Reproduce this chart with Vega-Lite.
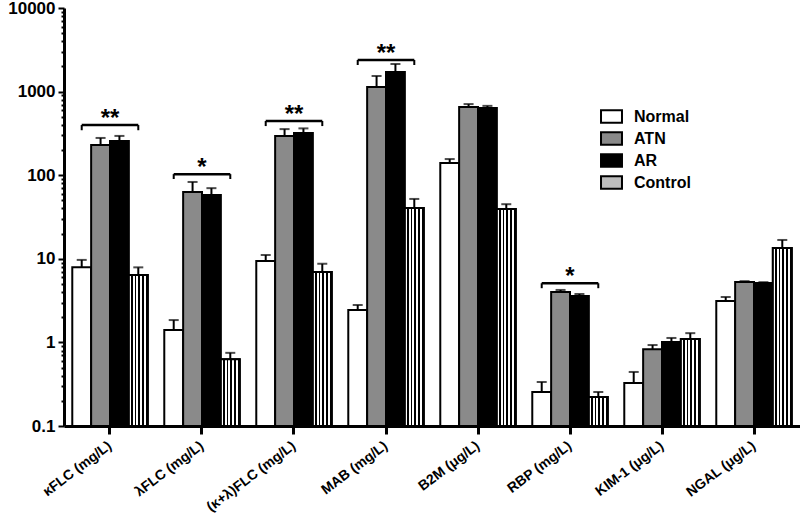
{
  "$schema": "https://vega.github.io/schema/vega-lite/v6.json",
  "width": 736,
  "height": 418,
  "autosize": {"type": "none"},
  "padding": {"left": 64, "top": 8, "right": 0, "bottom": 89},
  "background": "white",
  "config": {
    "font": "Liberation Sans",
    "view": {"stroke": null},
    "axis": {"domainColor": "black", "tickColor": "black", "labelColor": "black", "grid": false, "title": null, "labelFontWeight": "bold"},
    "legend": {"labelFontWeight": "bold", "labelColor": "black"}
  },
  "datasets": {
    "bars": [
      {"cat": "κFLC (mg/L)", "group": "Normal", "value": 7.9, "upper": 9.7},
      {"cat": "κFLC (mg/L)", "group": "ATN", "value": 230, "upper": 279},
      {"cat": "κFLC (mg/L)", "group": "AR", "value": 257, "upper": 295},
      {"cat": "κFLC (mg/L)", "group": "Control", "value": 6.4, "upper": 7.9},
      {"cat": "λFLC (mg/L)", "group": "Normal", "value": 1.41, "upper": 1.85},
      {"cat": "λFLC (mg/L)", "group": "ATN", "value": 63, "upper": 83},
      {"cat": "λFLC (mg/L)", "group": "AR", "value": 58, "upper": 70},
      {"cat": "λFLC (mg/L)", "group": "Control", "value": 0.63, "upper": 0.75},
      {"cat": "(κ+λ)FLC (mg/L)", "group": "Normal", "value": 9.4, "upper": 11.1},
      {"cat": "(κ+λ)FLC (mg/L)", "group": "ATN", "value": 294, "upper": 356},
      {"cat": "(κ+λ)FLC (mg/L)", "group": "AR", "value": 320, "upper": 363},
      {"cat": "(κ+λ)FLC (mg/L)", "group": "Control", "value": 6.95, "upper": 8.7},
      {"cat": "MAB (mg/L)", "group": "Normal", "value": 2.44, "upper": 2.8},
      {"cat": "MAB (mg/L)", "group": "ATN", "value": 1135, "upper": 1537},
      {"cat": "MAB (mg/L)", "group": "AR", "value": 1714, "upper": 2138},
      {"cat": "MAB (mg/L)", "group": "Control", "value": 40.5, "upper": 52},
      {"cat": "B2M (μg/L)", "group": "Normal", "value": 140, "upper": 156},
      {"cat": "B2M (μg/L)", "group": "ATN", "value": 655, "upper": 709},
      {"cat": "B2M (μg/L)", "group": "AR", "value": 637, "upper": 675},
      {"cat": "B2M (μg/L)", "group": "Control", "value": 39.4, "upper": 45},
      {"cat": "RBP (mg/L)", "group": "Normal", "value": 0.255, "upper": 0.336},
      {"cat": "RBP (mg/L)", "group": "ATN", "value": 4.0, "upper": 4.24},
      {"cat": "RBP (mg/L)", "group": "AR", "value": 3.59, "upper": 3.79},
      {"cat": "RBP (mg/L)", "group": "Control", "value": 0.222, "upper": 0.255},
      {"cat": "KIM-1 (μg/L)", "group": "Normal", "value": 0.327, "upper": 0.443},
      {"cat": "KIM-1 (μg/L)", "group": "ATN", "value": 0.83, "upper": 0.93},
      {"cat": "KIM-1 (μg/L)", "group": "AR", "value": 1.01, "upper": 1.13},
      {"cat": "KIM-1 (μg/L)", "group": "Control", "value": 1.1, "upper": 1.29},
      {"cat": "NGAL (μg/L)", "group": "Normal", "value": 3.13, "upper": 3.49},
      {"cat": "NGAL (μg/L)", "group": "ATN", "value": 5.28, "upper": 5.4},
      {"cat": "NGAL (μg/L)", "group": "AR", "value": 5.13, "upper": 5.25},
      {"cat": "NGAL (μg/L)", "group": "Control", "value": 13.5, "upper": 16.8}
    ],
    "brackets": [
      {"cat": "κFLC (mg/L)", "group": "Normal", "yb": 398, "ylow": 345},
      {"cat": "κFLC (mg/L)", "group": "Control", "yb": 398, "ylow": 345},
      {"cat": "λFLC (mg/L)", "group": "Normal", "yb": 103, "ylow": 90},
      {"cat": "λFLC (mg/L)", "group": "Control", "yb": 103, "ylow": 90},
      {"cat": "(κ+λ)FLC (mg/L)", "group": "Normal", "yb": 445, "ylow": 387},
      {"cat": "(κ+λ)FLC (mg/L)", "group": "Control", "yb": 445, "ylow": 387},
      {"cat": "MAB (mg/L)", "group": "Normal", "yb": 2390, "ylow": 2080},
      {"cat": "MAB (mg/L)", "group": "Control", "yb": 2390, "ylow": 2080},
      {"cat": "RBP (mg/L)", "group": "Normal", "yb": 5.1, "ylow": 4.45},
      {"cat": "RBP (mg/L)", "group": "Control", "yb": 5.1, "ylow": 4.45}
    ],
    "stars": [
      {"cat": "κFLC (mg/L)", "yb": 398, "label": "**"},
      {"cat": "λFLC (mg/L)", "yb": 103, "label": "*"},
      {"cat": "(κ+λ)FLC (mg/L)", "yb": 445, "label": "**"},
      {"cat": "MAB (mg/L)", "yb": 2390, "label": "**"},
      {"cat": "RBP (mg/L)", "yb": 5.1, "label": "*"}
    ]
  },
  "encoding": {
    "x": {
      "field": "cat", "type": "nominal",
      "sort": ["κFLC (mg/L)", "λFLC (mg/L)", "(κ+λ)FLC (mg/L)", "MAB (mg/L)", "B2M (μg/L)", "RBP (mg/L)", "KIM-1 (μg/L)", "NGAL (μg/L)"],
      "scale": {"paddingInner": 0.18, "paddingOuter": 0.09},
      "axis": {"title": null, "domainWidth": 3, "tickWidth": 3, "tickSize": 8, "bandPosition": 0.5, "labelAngle": -37, "labelAlign": "right", "labelBaseline": "middle", "labelFontSize": 14, "labelPadding": 10}
    }
  },
  "layer": [
    {
      "data": {"name": "bars"},
      "mark": {"type": "bar", "stroke": "black", "strokeWidth": 2},
      "encoding": {
        "xOffset": {"field": "group", "type": "nominal", "sort": ["Normal", "ATN", "AR", "Control"], "scale": {"domain": ["Normal", "ATN", "AR", "Control"], "paddingInner": 0, "paddingOuter": 0}},
        "y": {
          "field": "value", "type": "quantitative", "stack": null,
          "scale": {"type": "log", "domain": [0.1, 10000], "nice": false},
          "axis": {
            "title": null, "domainWidth": 3, "tickWidth": 2,
            "tickSize": {"condition": {"test": "abs(log(datum.value)/LN10 - round(log(datum.value)/LN10)) < 0.001", "value": 6}, "value": 3},
            "values": [0.1,0.2,0.3,0.4,0.5,0.6,0.7,0.8,0.9,1,2,3,4,5,6,7,8,9,10,20,30,40,50,60,70,80,90,100,200,300,400,500,600,700,800,900,1000,2000,3000,4000,5000,6000,7000,8000,9000,10000],
            "format": "~g",
            "labelExpr": "abs(log(datum.value)/LN10 - round(log(datum.value)/LN10)) < 0.001 ? datum.label : ''",
            "labelFontSize": 17, "labelPadding": 3, "labelFlush": false, "labelOverlap": false
          }
        },
        "y2": {"datum": 0.1},
        "fill": {
          "field": "group", "type": "nominal",
          "scale": {"domain": ["Normal", "ATN", "AR", "Control"], "range": ["white", "#8a8a8a", "black", "#bdbdbd"]},
          "legend": {
            "title": null, "orient": "none", "legendX": 536, "legendY": 97,
            "symbolType": "M-1,-0.6H1V0.6H-1Z", "symbolSize": 440, "symbolStrokeColor": "black", "symbolStrokeWidth": 2,
            "labelFontSize": 16, "labelOffset": 11, "rowPadding": 0, "padding": 0
          }
        }
      }
    },
    {
      "data": {"name": "bars"},
      "transform": [{"filter": "datum.group === 'Control'"}],
      "mark": {
        "type": "bar", "stroke": "black", "strokeWidth": 2,
        "fill": {"gradient": "linear", "x1": 0, "y1": 0, "x2": 1, "y2": 0, "stops": [
          {"offset": 0, "color": "white"}, {"offset": 0.11, "color": "white"}, {"offset": 0.11, "color": "black"}, {"offset": 0.2, "color": "black"},
          {"offset": 0.2, "color": "white"}, {"offset": 0.31, "color": "white"}, {"offset": 0.31, "color": "black"}, {"offset": 0.4, "color": "black"},
          {"offset": 0.4, "color": "white"}, {"offset": 0.51, "color": "white"}, {"offset": 0.51, "color": "black"}, {"offset": 0.6, "color": "black"},
          {"offset": 0.6, "color": "white"}, {"offset": 0.71, "color": "white"}, {"offset": 0.71, "color": "black"}, {"offset": 0.8, "color": "black"},
          {"offset": 0.8, "color": "white"}, {"offset": 0.91, "color": "white"}, {"offset": 0.91, "color": "black"}, {"offset": 1, "color": "black"}
        ]}
      },
      "encoding": {
        "xOffset": {"field": "group", "type": "nominal", "scale": {"domain": ["Normal", "ATN", "AR", "Control"]}},
        "y": {"field": "value", "type": "quantitative", "stack": null},
        "y2": {"datum": 0.1}
      }
    },
    {
      "data": {"name": "bars"},
      "mark": {"type": "rule", "color": "black", "strokeWidth": 2},
      "encoding": {
        "xOffset": {"field": "group", "type": "nominal", "scale": {"domain": ["Normal", "ATN", "AR", "Control"]}},
        "y": {"field": "value", "type": "quantitative"},
        "y2": {"field": "upper"}
      }
    },
    {
      "data": {"name": "bars"},
      "mark": {"type": "tick", "color": "black", "size": 10, "thickness": 2},
      "encoding": {
        "xOffset": {"field": "group", "type": "nominal", "scale": {"domain": ["Normal", "ATN", "AR", "Control"]}},
        "y": {"field": "upper", "type": "quantitative"}
      }
    },
    {
      "data": {"name": "brackets"},
      "mark": {"type": "rule", "color": "black", "strokeWidth": 2},
      "encoding": {
        "xOffset": {"field": "group", "type": "nominal", "scale": {"domain": ["Normal", "ATN", "AR", "Control"]}},
        "y": {"field": "yb", "type": "quantitative"},
        "y2": {"field": "ylow"}
      }
    },
    {
      "data": {"name": "brackets"},
      "mark": {"type": "line", "color": "black", "strokeWidth": 2.5},
      "encoding": {
        "xOffset": {"field": "group", "type": "nominal", "scale": {"domain": ["Normal", "ATN", "AR", "Control"]}},
        "y": {"field": "yb", "type": "quantitative"},
        "detail": {"field": "cat"}
      }
    },
    {
      "data": {"name": "stars"},
      "mark": {"type": "text", "color": "black", "fontSize": 24, "fontWeight": "bold", "baseline": "alphabetic", "dy": 1},
      "encoding": {
        "y": {"field": "yb", "type": "quantitative"},
        "text": {"field": "label"}
      }
    }
  ]
}
